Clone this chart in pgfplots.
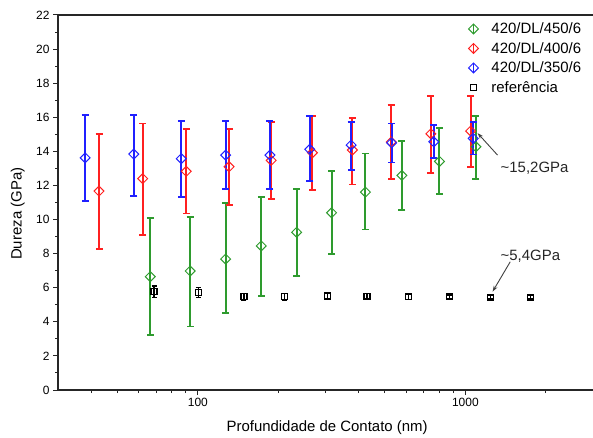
\documentclass[border=0pt]{standalone}
\usepackage{fontspec}
\setmainfont{Liberation Sans}
\usepackage{pgfplots}
\usepackage{pgfplotstable}
\pgfplotsset{compat=1.18}
\usetikzlibrary{arrows.meta}

\definecolor{grn}{HTML}{2E9B2E}
\definecolor{rd}{HTML}{FF2020}
\definecolor{bl}{HTML}{2020FF}

% x = contact depth (nm), y = hardness (GPa), ep/em = error up/down
\pgfplotstableread{
x     y     ep    em
66.4  6.65  3.45  3.42
93.6  6.98  3.19  3.26
127   7.68  3.27  3.15
172.6 8.45  2.85  2.92
234   9.25  2.56  2.54
316   10.40 2.44  2.42
423   11.61 2.27  2.19
579   12.59 2.03  2.03
800   13.41 1.98  1.93
1095  14.27 1.82  1.87
}\tblgreen

\pgfplotstableread{
x     y     ep    em
42.7  11.67 3.36  3.42
62.2  12.40 3.24  3.31
90.5  12.83 2.46  2.47
130.8 13.10 2.19  2.23
188   13.47 2.25  2.27
268   13.92 2.15  2.19
378   14.08 1.89  2.02
528   14.55 2.18  2.15
743   15.03 2.21  2.28
1046  15.19 2.05  2.09
}\tblred

\pgfplotstableread{
x     y     ep    em
37.9  13.62 2.51  2.55
57.6  13.84 2.29  2.46
86.7  13.57 2.23  2.27
127   13.78 2.02  1.97
186   13.78 2.02  1.99
262   14.12 1.95  1.86
374   14.37 1.35  1.47
530   14.50 1.14  1.15
762   14.56 0.98  0.97
1070  14.76 0.94  0.94
}\tblblue

\pgfplotstableread{
x     y     ep    em
68.6  5.77  0.33  0.33
100.3 5.71  0.30  0.30
148.7 5.47  0.20  0.20
210.8 5.47  0.20  0.20
304.7 5.51  0.20  0.20
429   5.50  0.15  0.15
615   5.47  0.15  0.15
874   5.47  0.10  0.10
1239  5.44  0.10  0.10
1754  5.44  0.10  0.10
}\tblref

\pgfplotsset{
  errleg/.style={legend image code/.code={
    \draw[##1, mark=none, line width=1.5bp] (0.2cm,-5bp) -- (0.2cm,5bp);
    \draw[##1] plot coordinates {(0.2cm,0cm)};
  }},
  sqleg/.style={legend image code/.code={
    \draw[##1] plot coordinates {(0.2cm,0cm)};
  }},
  diam/.style={only marks, color=#1, mark=square, mark size=3.5bp,
    mark options={rotate=45, line width=1bp},
    error bars/error bar style={line width=2bp, draw=#1},
    error bars/error mark options={rotate=90, mark size=3.5bp, line width=1.8bp, draw=#1},
    errleg},
}

\begin{document}
\begin{tikzpicture}
\begin{axis}[
  scale only axis,
  width=535bp, height=375bp,
  xmode=log,
  xmin=30, xmax=3000,
  ymin=0, ymax=22,
  axis x line=box, axis y line=left,
  axis line style={-, line width=1.2bp, black!85},
  xtick pos=left, ytick pos=left,
  tick align=outside,
  major tick length=5bp, minor tick length=3bp,
  tick style={line width=1bp, black!85},
  xtick={100,1000}, xticklabels={100,1000},
  minor xtick={40,50,60,70,80,90,200,300,400,500,600,700,800,900,2000},
  ytick={0,2,...,22},
  minor ytick={1,3,...,21},
  /pgf/number format/assume math mode=true,
  tick label style={font=\fontsize{12}{14}\selectfont},
  xlabel={Profundidade de Contato (nm)},
  ylabel={Dureza (GPa)},
  label style={font=\fontsize{15}{18}\selectfont},
  xlabel style={at={(axis description cs:0.503,-0.101)}, anchor=center},
  ylabel style={at={(axis description cs:-0.075,0.47)}, anchor=center},
  legend style={at={(axis description cs:0.767,0.985)}, anchor=north west,
    draw=none, fill=none, inner sep=0pt, row sep=3.2bp,
    font=\fontsize{15}{18}\selectfont},
  legend cell align=left,
  error bars/y dir=both,
  error bars/y explicit,
]
\coordinate (SW) at (rel axis cs:0,0);
\coordinate (NE) at (rel axis cs:1,1);

\addplot[diam=grn]
  table[x=x, y=y, y error plus=ep, y error minus=em] {\tblgreen};
\addlegendentry{\hspace{11bp}420/DL/450/6}

\addplot[diam=rd]
  table[x=x, y=y, y error plus=ep, y error minus=em] {\tblred};
\addlegendentry{\hspace{11bp}420/DL/400/6}

\addplot[diam=bl]
  table[x=x, y=y, y error plus=ep, y error minus=em] {\tblblue};
\addlegendentry{\hspace{11bp}420/DL/350/6}

\addplot[only marks, color=black, mark=square, mark size=3bp,
  mark options={line width=1.2bp},
  error bars/error bar style={line width=1.2bp, draw=black},
  error bars/error mark options={rotate=90, mark size=2.5bp, line width=1.2bp, draw=black},
  sqleg]
  table[x=x, y=y, y error plus=ep, y error minus=em] {\tblref};
\addlegendentry{\hspace{11bp}referência}

\draw[-{Stealth[length=6bp,width=4bp]}, line width=0.9bp, black!75]
  (axis cs:1319,13.78) -- (axis cs:1111,15.07);
\node[anchor=west, inner sep=0pt, font=\fontsize{15}{18}\selectfont, text=black!85]
  at (axis cs:1353,13.02) {\textasciitilde15,2GPa};
\draw[-{Stealth[length=6bp,width=4bp]}, line width=0.9bp, black!75]
  (axis cs:1471,7.52) -- (axis cs:1264,5.77);
\node[anchor=west, inner sep=0pt, font=\fontsize{15}{18}\selectfont, text=black!85]
  at (axis cs:1353,7.86) {\textasciitilde5,4GPa};
\end{axis}
\pgfresetboundingbox
\path[use as bounding box] ([shift={(-58bp,-48bp)}]SW) rectangle ([shift={(0bp,15bp)}]NE);
\end{tikzpicture}
\end{document}
